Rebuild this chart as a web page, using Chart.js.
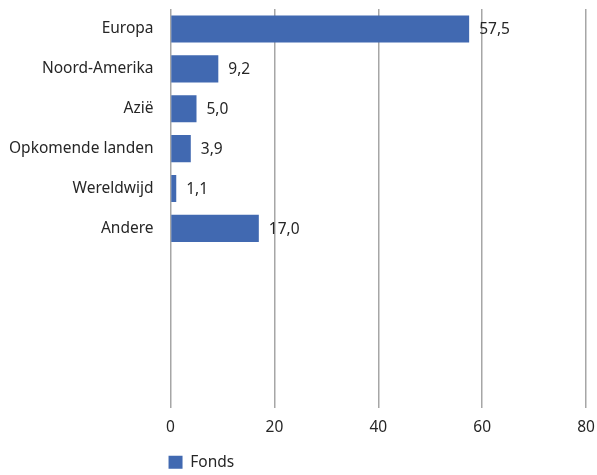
<!DOCTYPE html>
<html>
<head>
<meta charset="utf-8">
<script src="https://cdn.jsdelivr.net/npm/chart.js@4"></script>
<style>
  html, body { margin: 0; padding: 0; background: #fff; }
  #wrap { width: 597px; height: 475px; }
</style>
</head>
<body>
<div id="wrap"><canvas id="myChart"></canvas></div>
<script>
// regions (the empty ones keep the plot tall like the original)
const regions = ['Europa', 'Noord-Amerika', 'Azië', 'Opkomende landen', 'Wereldwijd', 'Andere', '', '', '', ''];
const fondsValues = [57.5, 9.2, 5.0, 3.9, 1.1, 17.0, null, null, null, null];
const xTicks = [0, 20, 40, 60, 80];

const barColor = '#4169b1';
const textColor = '#262626';
const fontFamily = '"Noto Sans", "Open Sans", sans-serif';
const fontSize = 15.5;

// value labels at the end of each bar, dutch decimal comma
const valueLabels = {
    id: 'valueLabels',
    afterDatasetsDraw(chart) {
        const ctx = chart.ctx;
        const meta = chart.getDatasetMeta(0);
        ctx.save();
        ctx.font = fontSize + 'px ' + fontFamily;
        ctx.fillStyle = textColor;
        ctx.textBaseline = 'middle';
        ctx.textAlign = 'left';
        meta.data.forEach((bar, i) => {
            const v = fondsValues[i];
            if (v === null) return;
            ctx.fillText(v.toFixed(1).replace('.', ','), bar.x + 10, bar.y + 1);
        });
        ctx.restore();
    }
};

// push the legend to line up with the plot's left edge
const legendLeft = {
    id: 'legendLeft',
    afterLayout(chart) {
        if (chart.legend) chart.legend.left = chart.chartArea.left - 10;
    }
};

const ctx = document.getElementById('myChart').getContext('2d');
const myChart = new Chart(ctx, {
    type: 'bar',
    data: {
        labels: regions,
        datasets: [{
            label: 'Fonds',
            data: fondsValues,
            backgroundColor: barColor,
            borderWidth: 0,
            barPercentage: 0.68,
            categoryPercentage: 1.0
        }]
    },
    options: {
        indexAxis: 'y',
        responsive: true,
        maintainAspectRatio: false,
        animation: false,
        layout: {
            padding: { top: 9, right: 11, left: 0, bottom: -5 }
        },
        scales: {
            x: {
                min: 0,
                max: 80,
                afterBuildTicks(axis) {
                    axis.ticks = xTicks.map(v => ({ value: v }));
                },
                afterFit(axis) {
                    axis.paddingRight = 0;
                },
                grid: {
                    color: '#a6a6a6',
                    lineWidth: 1.5,
                    drawTicks: true,
                    tickLength: 0
                },
                border: { display: false },
                ticks: {
                    color: textColor,
                    padding: 10,
                    font: { family: fontFamily, size: fontSize }
                }
            },
            y: {
                afterFit(axis) {
                    axis.paddingTop = 0;
                    axis.paddingBottom = 0;
                },
                grid: { display: false },
                border: { display: false },
                ticks: {
                    color: textColor,
                    padding: 9,
                    autoSkip: false,
                    font: { family: fontFamily, size: fontSize }
                }
            }
        },
        plugins: {
            legend: {
                position: 'bottom',
                align: 'start',
                labels: {
                    color: textColor,
                    boxWidth: 14,
                    boxHeight: 13,
                    padding: 8,
                    font: { family: fontFamily, size: fontSize }
                }
            },
            tooltip: { enabled: false }
        }
    },
    plugins: [valueLabels, legendLeft]
});
</script>
</body>
</html>
